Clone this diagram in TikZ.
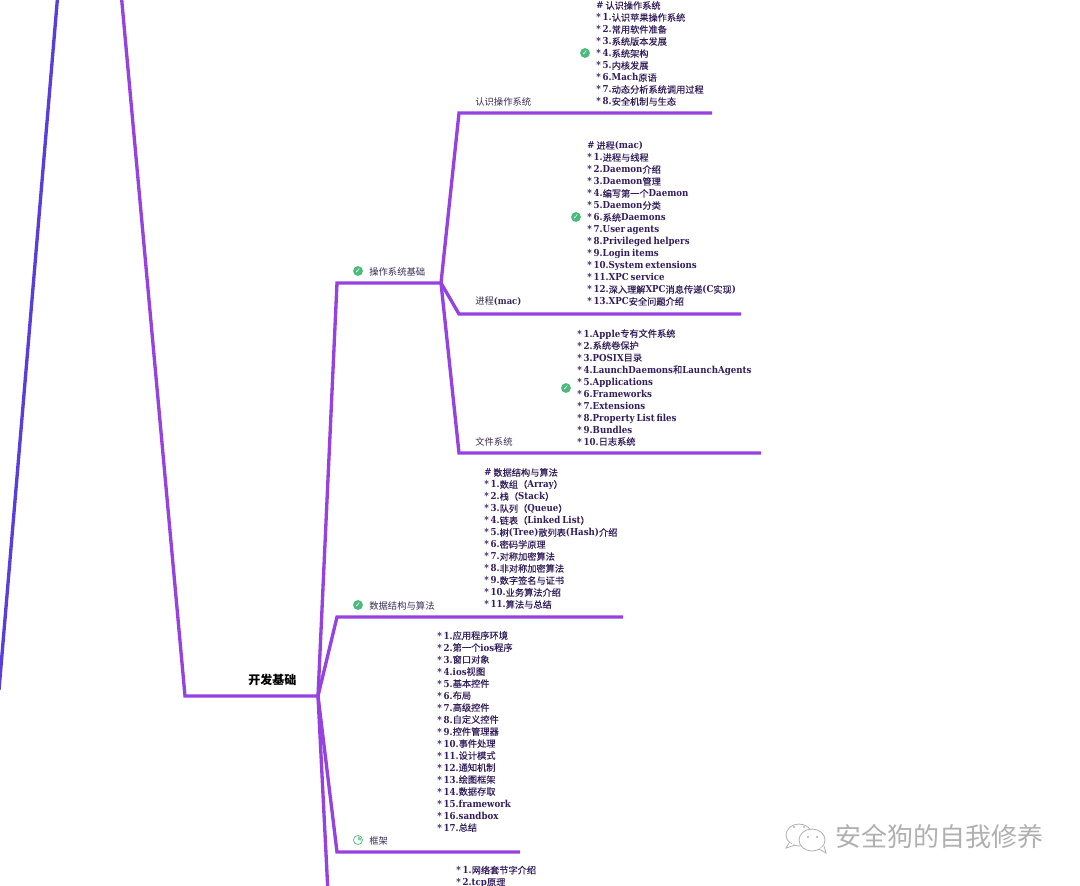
\documentclass[tikz,border=0pt]{standalone}
\usepackage{fontspec}
\setmainfont{DejaVu Serif Condensed}[BoldFont={DejaVu Serif Condensed Bold}]
\newfontfamily\cjkfont{Noto Sans CJK SC}
\newfontfamily\cjknotefont[FakeBold=0.25]{Noto Sans CJK SC}
\newfontfamily\symfont{DejaVu Sans}
\newcommand{\zh}[1]{{\cjkfont\mdseries #1}}
\newcommand{\zn}[1]{{\fontsize{6.9}{9}\cjknotefont\mdseries #1}}
\newcommand{\tightspace}{\setlength{\spaceskip}{.2em}}
\usetikzlibrary{calc,positioning}
\definecolor{BranchPurple}{RGB}{150,66,226}
\definecolor{BranchBlue}{RGB}{88,62,220}
\definecolor{NoteInk}{RGB}{52,30,92}
\definecolor{LabelInk}{RGB}{56,44,84}
\definecolor{DoneGreen}{RGB}{76,186,124}
\definecolor{MarkGray}{RGB}{176,176,176}
\tikzset{
    branch/.style={draw=BranchPurple, line width=2.5pt, line join=miter},
    note/.style={anchor=south west, inner sep=0pt, align=left, text=NoteInk, font=\fontsize{7.2}{9}\selectfont\bfseries\tightspace},
    label/.style={anchor=west, inner sep=0pt, text=LabelInk, font=\fontsize{7}{9}\selectfont},
    done/.style={circle, fill=DoneGreen, inner sep=0pt, minimum size=7.4pt, text=white, font=\symfont\fontsize{5.5}{6}\selectfont},
    partial/.style={circle, draw=DoneGreen, line width=0.5pt, inner sep=0pt, minimum size=6.8pt},
    bubble/.style={draw=MarkGray, line width=0.6pt, fill=white}
}
\begin{document}
\begin{tikzpicture}[x=0.75pt, y=-0.75pt]
    \clip (0,0) rectangle (1080,885);
    \fill[white] (0,0) rectangle (1080,885);

    \coordinate (outer_top) at (58,-8);
    \coordinate (outer_end) at (-1,690);
    \coordinate (main_top) at (121,-8);
    \coordinate (main_knee) at (185,696);
    \coordinate (dev) at (318,696);
    \coordinate (os_knee) at (337,283);
    \coordinate (os) at (441,283);
    \coordinate (algo_knee) at (337,617);
    \coordinate (algo_end) at (623,617);
    \coordinate (fw_knee) at (337,852);
    \coordinate (fw_end) at (520,852);
    \coordinate (net_end) at (328,893);
    \coordinate (know_knee) at (459,113);
    \coordinate (know_end) at (712,113);
    \coordinate (proc_knee) at (459,314);
    \coordinate (proc_end) at (741,314);
    \coordinate (file_knee) at (459,453);
    \coordinate (file_end) at (761,453);

    \draw[line width=2.5pt, BranchBlue] (outer_top) -- (outer_end);
    \draw[branch] (main_top) -- (main_knee) -- (dev);
    \draw[branch] (dev) -- (os_knee) -- (os);
    \draw[branch] (dev) -- (algo_knee) -- (algo_end);
    \draw[branch] (dev) -- (fw_knee) -- (fw_end);
    \draw[branch] (dev) -- (net_end);
    \draw[branch] (os) -- (know_knee) -- (know_end);
    \draw[branch] (os) -- (proc_knee) -- (proc_end);
    \draw[branch] (os) -- (file_knee) -- (file_end);

    \node[label, text=black, font=\fontsize{9}{11}\selectfont\cjkfont\bfseries] (dev_label) at (248,680) {开发基础};
    \node[label] (os_label) at (369,271.5) {\zh{操作系统基础}};
    \node[label] (algo_label) at (369,605.5) {\zh{数据结构与算法}};
    \node[label] (fw_label) at (369,840.5) {\zh{框架}};
    \node[label] (know_label) at (475,101.5) {\zh{认识操作系统}};
    \node[label] (proc_label) at (475,301.5) {\zh{进程}\textbf{(mac)}};
    \node[label] (file_label) at (475,441.5) {\zh{文件系统}};

    \node[done] (os_done) at (358,271) {✓};
    \node[done] (algo_done) at (358,605) {✓};
    \node[partial] (fw_part) at (358,840) {};
    \fill[DoneGreen!70] (fw_part.center) -- ++(0,-3.6) arc (-90:10:3.6) -- cycle;
    \node[done] (know_done) at (585,53) {✓};
    \node[done] (proc_done) at (576,217) {✓};
    \node[done] (file_done) at (566,388) {✓};

    \node[note] (know_note) at (596,106) {
        \# \zn{认识操作系统}\\
        * 1.\zn{认识苹果操作系统}\\
        * 2.\zn{常用软件准备}\\
        * 3.\zn{系统版本发展}\\
        * 4.\zn{系统架构}\\
        * 5.\zn{内核发展}\\
        * 6.Mach\zn{原语}\\
        * 7.\zn{动态分析系统调用过程}\\
        * 8.\zn{安全机制与生态}};
    \node[note] (proc_note) at (587,306) {
        \# \zn{进程}(mac)\\
        * 1.\zn{进程与线程}\\
        * 2.Daemon\zn{介绍}\\
        * 3.Daemon\zn{管理}\\
        * 4.\zn{编写第一个}Daemon\\
        * 5.Daemon\zn{分类}\\
        * 6.\zn{系统}Daemons\\
        * 7.User agents\\
        * 8.Privileged helpers\\
        * 9.Login items\\
        * 10.System extensions\\
        * 11.XPC service\\
        * 12.\zn{深入理解}XPC\zn{消息传递}(C\zn{实现})\\
        * 13.XPC\zn{安全问题介绍}};
    \node[note] (file_note) at (577,446) {
        * 1.Apple\zn{专有文件系统}\\
        * 2.\zn{系统卷保护}\\
        * 3.POSIX\zn{目录}\\
        * 4.LaunchDaemons\zn{和}LaunchAgents\\
        * 5.Applications\\
        * 6.Frameworks\\
        * 7.Extensions\\
        * 8.Property List files\\
        * 9.Bundles\\
        * 10.\zn{日志系统}};
    \node[note] (algo_note) at (484,609) {
        \# \zn{数据结构与算法}\\
        * 1.\zn{数组（}Array\zn{）}\\
        * 2.\zn{栈（}Stack\zn{）}\\
        * 3.\zn{队列（}Queue\zn{）}\\
        * 4.\zn{链表（}Linked List\zn{）}\\
        * 5.\zn{树}(Tree)\zn{散列表}(Hash)\zn{介绍}\\
        * 6.\zn{密码学原理}\\
        * 7.\zn{对称加密算法}\\
        * 8.\zn{非对称加密算法}\\
        * 9.\zn{数字签名与证书}\\
        * 10.\zn{业务算法介绍}\\
        * 11.\zn{算法与总结}};
    \node[note] (fw_note) at (437,832) {
        * 1.\zn{应用程序环境}\\
        * 2.\zn{第一个}ios\zn{程序}\\
        * 3.\zn{窗口对象}\\
        * 4.ios\zn{视图}\\
        * 5.\zn{基本控件}\\
        * 6.\zn{布局}\\
        * 7.\zn{高级控件}\\
        * 8.\zn{自定义控件}\\
        * 9.\zn{控件管理器}\\
        * 10.\zn{事件处理}\\
        * 11.\zn{设计模式}\\
        * 12.\zn{通知机制}\\
        * 13.\zn{绘图框架}\\
        * 14.\zn{数据存取}\\
        * 15.framework\\
        * 16.sandbox\\
        * 17.\zn{总结}};
    \node[note, anchor=north west] (net_note) at (456,865.5) {
        * 1.\zn{网络套节字介绍}\\
        * 2.tcp\zn{原理}};

    \draw[bubble] (799,835) ellipse (13 and 11);
    \draw[bubble] (789,843) -- (786,848) -- (795,845);
    \draw[bubble] (812,840) ellipse (13 and 11);
    \draw[bubble] (819,849) -- (826,853) -- (824,846);
    \fill[MarkGray] (794,827) circle (1.2) (804,827) circle (1.2) (808,837) circle (1.2) (817,837) circle (1.2);
    \node[anchor=west, inner sep=0pt, text=MarkGray, font=\fontsize{19.5}{22}\selectfont\cjkfont] (mark_label) at (835,837) {安全狗的自我修养};
\end{tikzpicture}
\end{document}
